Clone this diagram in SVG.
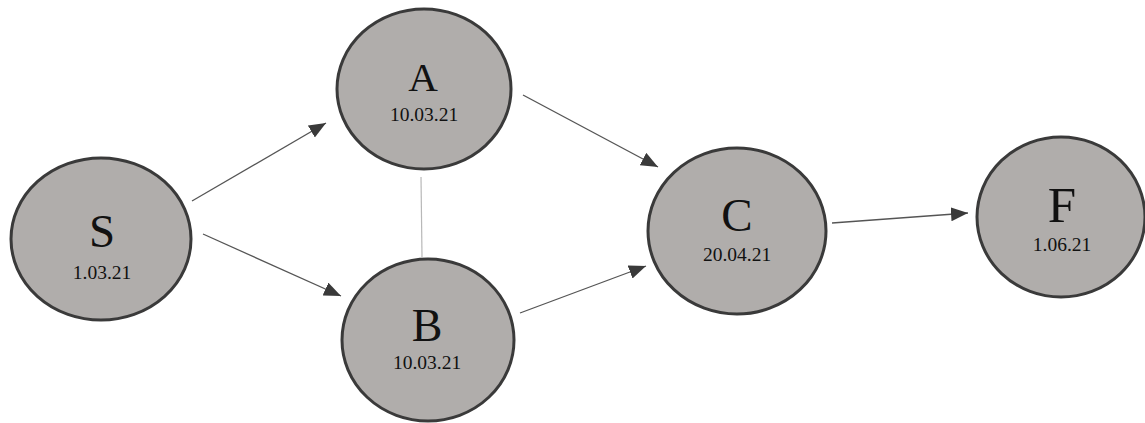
<svg xmlns="http://www.w3.org/2000/svg" width="1145" height="423" viewBox="0 0 1145 423">
<style>
.node{fill:#b0adab;stroke:#3a3a3a;stroke-width:3}
.lbl{font-family:"Liberation Serif","Times New Roman",serif;fill:#111;text-anchor:middle}
.date{font-family:"Liberation Serif","Times New Roman",serif;fill:#111;text-anchor:middle;font-size:19.5px}
.edge{stroke:#555;stroke-width:1.3;fill:none}
.plain{stroke:#b8b8b8;stroke-width:1.2;fill:none}
</style>
<defs>
<marker id="ah" markerUnits="userSpaceOnUse" markerWidth="18" markerHeight="15" refX="17" refY="7" orient="auto">
<path d="M0,0 L17,7 L0,14 z" fill="#3a3a3a"/>
</marker>
</defs>
<rect width="1145" height="423" fill="#fff"/>
<g id="connectors">
<line class="edge" x1="192" y1="201" x2="326" y2="123" marker-end="url(#ah)"/>
<line class="edge" x1="203" y1="234" x2="341" y2="296" marker-end="url(#ah)"/>
<line class="edge" x1="523" y1="95" x2="658" y2="167" marker-end="url(#ah)"/>
<line class="edge" x1="520" y1="313" x2="646" y2="266" marker-end="url(#ah)"/>
<line class="edge" x1="832" y1="223" x2="968" y2="213" marker-end="url(#ah)"/>
<line class="plain" x1="421" y1="177" x2="422" y2="257"/>
</g>
<g id="node-S">
<ellipse class="node" cx="101" cy="239" rx="90" ry="81"/>
<text class="lbl" x="102" y="247" font-size="47">S</text>
<text class="date" x="102" y="279">1.03.21</text>
</g>
<g id="node-A">
<ellipse class="node" cx="424" cy="89" rx="87" ry="80"/>
<text class="lbl" x="423" y="91" font-size="41">A</text>
<text class="date" x="424" y="121">10.03.21</text>
</g>
<g id="node-B">
<ellipse class="node" cx="428" cy="340" rx="86" ry="81"/>
<text class="lbl" x="427" y="341" font-size="46">B</text>
<text class="date" x="427" y="369">10.03.21</text>
</g>
<g id="node-C">
<ellipse class="node" cx="737" cy="231" rx="89" ry="83"/>
<text class="lbl" x="737" y="231" font-size="47">C</text>
<text class="date" x="737" y="261">20.04.21</text>
</g>
<g id="node-F">
<ellipse class="node" cx="1061" cy="217" rx="84" ry="80"/>
<text class="lbl" x="1062" y="222" font-size="51">F</text>
<text class="date" x="1062" y="251">1.06.21</text>
</g>
</svg>
